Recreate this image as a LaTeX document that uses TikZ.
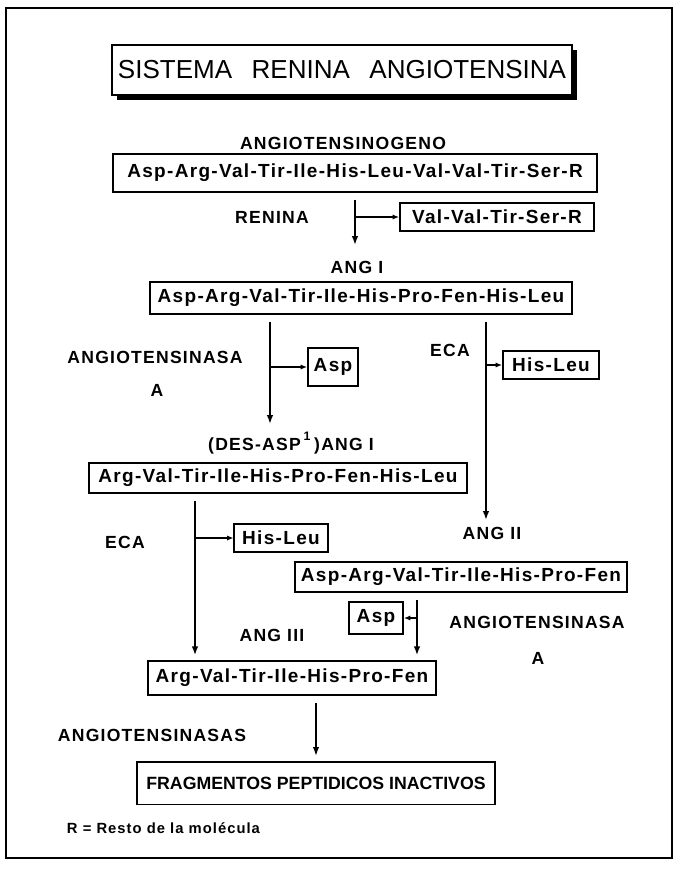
\documentclass[tikz,border=0pt]{standalone}
\usepackage{fontspec}
\setmainfont{Liberation Sans}[LetterSpace=7]
\newfontfamily\titlefont{Liberation Sans}
\usepackage{tikz}
\usetikzlibrary{arrows.meta,shadows}

\tikzset{
  seqbox/.style 2 args={draw, line width=1.3pt, inner xsep=4pt, minimum width=#1, minimum height=#2,
    font=\fontsize{13.5}{16}\selectfont\bfseries},
  lab/.style={font=\fontsize{12.5}{15}\selectfont\bfseries},
  titlebox/.style={draw, fill=white, line width=1.3pt, minimum width=11.5cm, minimum height=1.25cm,
    font=\titlefont\fontsize{18.5}{22}\selectfont,
    drop shadow={shadow xshift=1.2mm, shadow yshift=-1.2mm, fill=black, opacity=1}},
  arr/.style={line width=1.1pt, shorten <=0.18cm, shorten >=0.12cm, -{Latex[length=2.2mm,width=1.6mm]}},
  brarr/.style={line width=0.9pt, -{Latex[length=1.6mm,width=1.3mm]}}
}

\begin{document}
\begin{tikzpicture}[x=0.025cm, y=-0.025cm]
\useasboundingbox (0,0) rectangle (680,871);
	\draw[line width=1.2pt] (6,8) rectangle (672,858);
\node[titlebox] (titulo) at (342,70) {SISTEMA\hspace{0.75em}RENINA\hspace{0.75em}ANGIOTENSINA};

\node[lab] (angiotensinogeno) at (343,143) {ANGIOTENSINOGENO};
\node[seqbox={12.1cm}{0.93cm}] (seq1) at (355,173) {Asp-Arg-Val-Tir-Ile-His-Leu-Val-Val-Tir-Ser-R};
\node[lab] (renina) at (272,217) {RENINA};
\node[seqbox={4.85cm}{0.68cm}] (resto) at (497,217) {Val-Val-Tir-Ser-R};
\node[lab] (angI) at (357,267) {ANG I};
\node[seqbox={10.55cm}{0.78cm}] (seq2) at (361,298) {Asp-Arg-Val-Tir-Ile-His-Pro-Fen-His-Leu};

\node[lab] (angiotensinasaL) at (155,357) {ANGIOTENSINASA};
\node[lab] (aL) at (157,390) {A};
\node[seqbox={1.25cm}{0.95cm}] (asp1) at (333,367) {Asp};
\node[lab] (ecaR) at (450,350) {ECA};
\node[seqbox={2.4cm}{0.68cm}] (hisleu1) at (551,365) {His-Leu};

\node[lab] (desang) at (291,443) {(DES-ASP\,\raisebox{0.5ex}{\textsuperscript{1}}\,)ANG I};
\node[seqbox={9.43cm}{0.75cm}] (seq3) at (278,478) {Arg-Val-Tir-Ile-His-Pro-Fen-His-Leu};
\node[lab] (ecaL) at (125,542) {ECA};
\node[seqbox={2.33cm}{0.72cm}] (hisleu2) at (281,538) {His-Leu};
\node[lab] (angII) at (492,533) {ANG II};
\node[seqbox={8.3cm}{0.75cm}] (seq4) at (461,577) {Asp-Arg-Val-Tir-Ile-His-Pro-Fen};
\node[seqbox={1.35cm}{0.78cm}] (asp2) at (376,618) {Asp};
\node[lab] (angiotensinasaR) at (537,622) {ANGIOTENSINASA};
\node[lab] (aR) at (538,658) {A};
\node[lab] (angIII) at (272,635) {ANG III};
\node[seqbox={7.2cm}{0.85cm}] (seq5) at (292,678) {Arg-Val-Tir-Ile-His-Pro-Fen};

\node[lab] (angiotensinasas) at (152,735) {ANGIOTENSINASAS};
\node[seqbox={8.93cm}{1.07cm}, font=\titlefont\fontsize{12.6}{15}\selectfont\bfseries] (fragmentos) at (316,783) {FRAGMENTOS PEPTIDICOS INACTIVOS};
\node[lab, font=\fontsize{10.5}{13}\selectfont\bfseries, anchor=west] (nota) at (62,828) {R = Resto de la molécula};

\coordinate (c1) at (355,245);
\coordinate (c2) at (270,424);
\coordinate (c3) at (486,520);
\coordinate (c4) at (195,538);
\coordinate (c5) at (417,620);
	\draw[arr, shorten >=0pt] (seq1.south -| c1) -- (c1);
	\draw[brarr] (c1 |- resto.west) -- (resto.west);
	\draw[arr, shorten >=0pt] (seq2.south -| c2) -- (c2);
	\draw[brarr] (c2 |- asp1.west) -- (asp1.west);
	\draw[arr, shorten >=0pt] (seq2.south -| c3) -- (c3);
	\draw[brarr] (c3 |- hisleu1.west) -- (hisleu1.west);
	\draw[arr] (seq3.south -| c4) -- (seq5.north -| c4);
	\draw[brarr] (c4 |- hisleu2.west) -- (hisleu2.west);
	\draw[arr] (seq4.south -| c5) -- (seq5.north -| c5);
	\draw[brarr] (c5 |- asp2.east) -- (asp2.east);
	\draw[arr] (seq5.south -| fragmentos.north) -- (fragmentos.north);
\end{tikzpicture}
\end{document}
